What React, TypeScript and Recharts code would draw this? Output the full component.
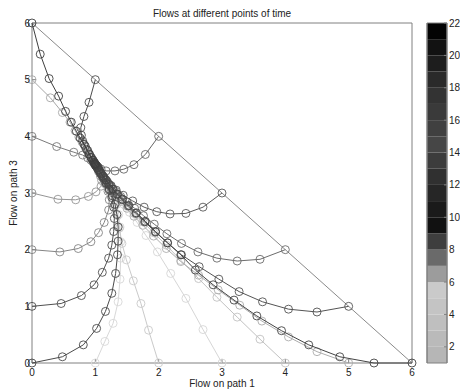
import { ScatterChart, Scatter, XAxis, YAxis, ReferenceArea } from "recharts";

type Pt = [number, number];

// axis ticks
const axisTicks = [0, 1, 2, 3, 4, 5, 6];
const colorbarTicks = [2, 4, 6, 8, 10, 12, 14, 16, 18, 20, 22];

// feasible boundary x1 + x3 = 6
const boundary: Pt[] = [
  [0, 6],
  [6, 0],
];

// trajectories, named by their starting point (path1, path3)
const t06: Pt[] = [
  [0, 6], [0.13, 5.45], [0.27, 5.02], [0.42, 4.71], [0.53, 4.44], [0.62, 4.25], [0.7, 4.09],
  [0.76, 3.97], [0.82, 3.86], [0.86, 3.77], [0.9, 3.69], [0.93, 3.63], [0.96, 3.58], [0.98, 3.54],
  [0.99, 3.52], [1.0, 3.51], [1.0, 3.5],
];
const t15: Pt[] = [
  [1, 5], [0.9, 4.6], [0.82, 4.35], [0.77, 4.15], [0.78, 4.02], [0.8, 3.92], [0.84, 3.83],
  [0.88, 3.75], [0.91, 3.68], [0.94, 3.62], [0.96, 3.58], [0.98, 3.55], [0.99, 3.52], [1.0, 3.51],
];
const t05: Pt[] = [
  [0, 5], [0.29, 4.68], [0.48, 4.42], [0.6, 4.25], [0.68, 4.1], [0.74, 3.99], [0.79, 3.9],
  [0.84, 3.81], [0.88, 3.73], [0.91, 3.67], [0.94, 3.61], [0.96, 3.57], [0.98, 3.54], [0.99, 3.52],
  [1.0, 3.51],
];
const t24: Pt[] = [
  [2, 4], [1.79, 3.68], [1.61, 3.5], [1.45, 3.42], [1.31, 3.39], [1.17, 3.39], [1.09, 3.42],
  [1.05, 3.45], [1.02, 3.48], [1.01, 3.49], [1.0, 3.5],
];
const t04: Pt[] = [
  [0, 4], [0.39, 3.82], [0.66, 3.72], [0.8, 3.67], [0.88, 3.62], [0.93, 3.58], [0.96, 3.55],
  [0.98, 3.52], [0.99, 3.51], [1.0, 3.5],
];
const t33: Pt[] = [
  [3, 3], [2.7, 2.75], [2.43, 2.64], [2.18, 2.63], [1.97, 2.67], [1.77, 2.75], [1.59, 2.86],
  [1.44, 2.96], [1.33, 3.05], [1.25, 3.13], [1.19, 3.2], [1.14, 3.27], [1.1, 3.33], [1.07, 3.38],
  [1.04, 3.43], [1.02, 3.47], [1.01, 3.49],
];
const t03: Pt[] = [
  [0, 3], [0.41, 2.89], [0.69, 2.88], [0.89, 2.94], [1.01, 3.02], [1.09, 3.12], [1.1, 3.22],
  [1.08, 3.3], [1.05, 3.38], [1.03, 3.44], [1.01, 3.48], [1.0, 3.49],
];
const t42: Pt[] = [
  [4, 2], [3.6, 1.83], [3.24, 1.8], [2.92, 1.85], [2.62, 1.96], [2.36, 2.11], [2.13, 2.28],
  [1.93, 2.45], [1.76, 2.6], [1.62, 2.73], [1.5, 2.84], [1.4, 2.94], [1.32, 3.03], [1.25, 3.11],
  [1.19, 3.19], [1.14, 3.26], [1.1, 3.32], [1.07, 3.38], [1.04, 3.43], [1.02, 3.47], [1.01, 3.49],
];
const t51: Pt[] = [
  [5, 1], [4.5, 0.9], [4.05, 0.95], [3.64, 1.08], [3.27, 1.26], [2.95, 1.48], [2.64, 1.7],
  [2.36, 1.91], [2.14, 2.12], [1.95, 2.31], [1.78, 2.49], [1.64, 2.64], [1.52, 2.77], [1.42, 2.88],
  [1.34, 2.98], [1.27, 3.07], [1.21, 3.15], [1.16, 3.23], [1.12, 3.3], [1.08, 3.36], [1.05, 3.41],
  [1.03, 3.45], [1.01, 3.48],
];
const t60: Pt[] = [
  [6, 0], [5.4, 0], [4.86, 0.11], [4.37, 0.32], [3.94, 0.57], [3.55, 0.83], [3.19, 1.11],
  [2.86, 1.38], [2.58, 1.64], [2.35, 1.91], [2.14, 2.12], [1.95, 2.32], [1.79, 2.5], [1.65, 2.65],
  [1.53, 2.78], [1.43, 2.89], [1.35, 2.98], [1.28, 3.07], [1.22, 3.15], [1.17, 3.23], [1.12, 3.3],
  [1.08, 3.36], [1.05, 3.41], [1.03, 3.45], [1.01, 3.48],
];
const t50: Pt[] = [
  [5, 0], [4.5, 0.2], [4.05, 0.46], [3.63, 0.74], [3.28, 1.02], [2.94, 1.29], [2.63, 1.55],
  [2.35, 1.79], [2.12, 2.02], [1.92, 2.24], [1.75, 2.43], [1.61, 2.59], [1.5, 2.73], [1.41, 2.85],
  [1.33, 2.95], [1.26, 3.05], [1.2, 3.14], [1.15, 3.22], [1.11, 3.3], [1.07, 3.36], [1.05, 3.41],
  [1.03, 3.45], [1.01, 3.48],
];
const t40: Pt[] = [
  [4, 0], [3.6, 0.42], [3.24, 0.81], [2.92, 1.16], [2.63, 1.49], [2.35, 1.81], [2.12, 2.08],
  [1.92, 2.3], [1.75, 2.49], [1.61, 2.64], [1.5, 2.77], [1.41, 2.88], [1.33, 2.98], [1.26, 3.07],
  [1.2, 3.16], [1.15, 3.24], [1.11, 3.31], [1.07, 3.37], [1.05, 3.42], [1.03, 3.46], [1.01, 3.49],
];
const t30: Pt[] = [
  [3, 0], [2.7, 0.59], [2.43, 1.14], [2.19, 1.58], [1.98, 1.96], [1.8, 2.25], [1.66, 2.48],
  [1.54, 2.66], [1.45, 2.8], [1.37, 2.92], [1.3, 3.02], [1.24, 3.11], [1.18, 3.2], [1.13, 3.28],
  [1.09, 3.35], [1.06, 3.41], [1.04, 3.45], [1.02, 3.48], [1.01, 3.49],
];
const t20: Pt[] = [
  [2, 0], [1.84, 0.58], [1.72, 1.05], [1.6, 1.45], [1.49, 1.82], [1.42, 2.11], [1.38, 2.38],
  [1.35, 2.6], [1.32, 2.79], [1.28, 2.94], [1.24, 3.06], [1.19, 3.17], [1.14, 3.26], [1.1, 3.33],
  [1.07, 3.39], [1.05, 3.44], [1.03, 3.47], [1.01, 3.49],
];
const t10: Pt[] = [
  [1, 0], [1.15, 0.38], [1.28, 0.7], [1.36, 1.08], [1.39, 1.48], [1.4, 1.85], [1.4, 2.14],
  [1.39, 2.4], [1.37, 2.62], [1.34, 2.8], [1.3, 2.95], [1.25, 3.07], [1.2, 3.17], [1.15, 3.26],
  [1.11, 3.33], [1.08, 3.39], [1.05, 3.44], [1.03, 3.47], [1.01, 3.49],
];
const t00: Pt[] = [
  [0, 0], [0.48, 0.11], [0.81, 0.32], [1.02, 0.61], [1.16, 0.91], [1.26, 1.23], [1.32, 1.58],
  [1.35, 1.91], [1.36, 2.15], [1.36, 2.4], [1.34, 2.62], [1.31, 2.8], [1.27, 2.95], [1.22, 3.07],
  [1.17, 3.18], [1.13, 3.27], [1.09, 3.34], [1.06, 3.4], [1.04, 3.45], [1.02, 3.48], [1.01, 3.49],
];
const t01: Pt[] = [
  [0, 1], [0.46, 1.05], [0.78, 1.19], [0.98, 1.38], [1.11, 1.6], [1.21, 1.85], [1.26, 2.08],
  [1.29, 2.32], [1.3, 2.55], [1.29, 2.75], [1.26, 2.92], [1.22, 3.05], [1.17, 3.17], [1.13, 3.26],
  [1.09, 3.34], [1.06, 3.4], [1.04, 3.45], [1.02, 3.48], [1.01, 3.49],
];
const t02: Pt[] = [
  [0, 2], [0.44, 1.96], [0.73, 2.02], [0.93, 2.14], [1.05, 2.3], [1.14, 2.48], [1.21, 2.7],
  [1.22, 2.88], [1.2, 3.03], [1.16, 3.16], [1.12, 3.26], [1.08, 3.34], [1.05, 3.41], [1.03, 3.46],
  [1.01, 3.49], [1.0, 3.5],
];

// drawn light first, dark on top
const trajectories: Pt[][] = [
  t30, t10, t20, t40, t50, t05, t03, t02, t04, t42, t24, t33, t51, t01, t15, t00, t60, t06,
];
const trajectoryColors = [
  "#d6d6d6", "#d8d8d8", "#cacaca", "#c2c2c2", "#adadad", "#a6a6a6", "#959595", "#858585", "#7a7a7a",
  "#6c6c6c", "#666666", "#5a5a5a", "#545454", "#505050", "#4c4c4c", "#4a4a4a", "#444444", "#3e3e3e",
];

// colorbar bands 1-2 ... 21-22, bottom to top
const colorbarEdges = [1, 2, 3, 4, 5, 6, 7, 8, 9, 10, 11, 12, 13, 14, 15, 16, 17, 18, 19, 20, 21, 22];
const colorbarColors = [
  "#b6b6b6", "#bababa", "#bfbfbf", "#c4c4c4", "#cacaca", "#9c9c9c", "#6a6a6a", "#3e3e3e", "#111111",
  "#1a1a1a", "#262626", "#303030", "#3c3c3c", "#464646", "#404040", "#3a3a3a", "#333333", "#2a2a2a",
  "#1d1d1d", "#121212", "#030303",
];

const AXIS = "#808080";
const TEXT = "#222";

const toRows = (pts: Pt[]) => pts.map(([x, y]) => ({ x, y }));
const edgeRows = colorbarEdges.map((v) => ({ x: 0.5, y: v }));

const ring = (color: string) => (props: any) => (
  <circle cx={props.cx} cy={props.cy} r={4} fill="none" stroke={color} strokeWidth={0.9} />
);
const noMark = () => <g />;

export default function App() {
  return (
    <div
      style={{
        position: "absolute",
        left: 0,
        top: 0,
        width: 460,
        height: 389,
        background: "#fff",
        fontFamily: "'Liberation Sans', Arial, sans-serif",
        fontSize: 10,
      }}
    >
      <div style={{ position: "absolute", left: 0, top: 0 }}>
        <ScatterChart width={460} height={389} margin={{ top: 22, right: 47, bottom: 0, left: 0 }}>
          <XAxis
            dataKey="x"
            type="number"
            domain={[0, 6]}
            ticks={axisTicks}
            height={26}
            stroke={AXIS}
            tickSize={-4}
            tickMargin={10}
            tick={{ fill: TEXT, fontSize: 10 }}
            label={{ value: "Flow on path 1", position: "insideBottom", offset: 2, fill: TEXT, fontSize: 10 }}
          />
          <XAxis
            xAxisId="top"
            dataKey="x"
            orientation="top"
            type="number"
            domain={[0, 6]}
            ticks={axisTicks}
            height={1}
            stroke={AXIS}
            tickSize={-4}
            tick={false}
            label={{ value: "Flows at different points of time", position: "top", offset: 5.5, fill: TEXT, fontSize: 10 }}
          />
          <YAxis
            dataKey="y"
            type="number"
            domain={[0, 6]}
            ticks={axisTicks}
            width={32}
            stroke={AXIS}
            tickSize={-4}
            tickMargin={6}
            tick={{ fill: TEXT, fontSize: 10 }}
            label={{
              value: "Flow on path 3",
              angle: -90,
              position: "insideLeft",
              offset: 13,
              fill: TEXT,
              fontSize: 10,
              style: { textAnchor: "middle" },
            }}
          />
          <YAxis
            yAxisId="right"
            dataKey="y"
            orientation="right"
            type="number"
            domain={[0, 6]}
            ticks={axisTicks}
            width={1}
            stroke={AXIS}
            tickSize={-4}
            tick={false}
          />
          <Scatter
            xAxisId="top"
            yAxisId="right"
            data={toRows(boundary)}
            line={{ stroke: "#8a8a8a", strokeWidth: 1 }}
            shape={noMark}
            isAnimationActive={false}
          />
          {trajectories.map((t, i) => (
            <Scatter
              key={i}
              data={toRows(t)}
              fill={trajectoryColors[i]}
              line={{ stroke: trajectoryColors[i], strokeWidth: 1 }}
              shape={ring(trajectoryColors[i])}
              isAnimationActive={false}
            />
          ))}
        </ScatterChart>
      </div>
      <div style={{ position: "absolute", left: 0, top: 0 }}>
        <ScatterChart width={460} height={389} margin={{ top: 23, right: 12, bottom: 26, left: 426 }}>
          <XAxis xAxisId="cb" dataKey="x" type="number" domain={[0, 1]} hide />
          <YAxis
            yAxisId="cbl"
            dataKey="y"
            orientation="left"
            type="number"
            domain={[1, 22]}
            ticks={colorbarTicks}
            width={1}
            stroke={AXIS}
            tickSize={-3}
            tick={false}
          />
          <YAxis
            yAxisId="cb"
            dataKey="y"
            orientation="right"
            type="number"
            domain={[1, 22]}
            ticks={colorbarTicks}
            width={1}
            stroke={AXIS}
            tickSize={-3}
            tickMargin={5}
            tick={{ fill: TEXT, fontSize: 10 }}
          />
          {colorbarColors.map((c, i) => (
            <ReferenceArea
              key={i}
              xAxisId="cb"
              yAxisId="cb"
              y1={colorbarEdges[i]}
              y2={colorbarEdges[i + 1]}
              fill={c}
              fillOpacity={1}
              stroke="none"
              ifOverflow="visible"
            />
          ))}
          <ReferenceArea
            xAxisId="cb"
            yAxisId="cb"
            y1={colorbarEdges[0]}
            y2={colorbarEdges[colorbarEdges.length - 1]}
            fill="none"
            stroke={AXIS}
            ifOverflow="visible"
          />
          <Scatter xAxisId="cb" yAxisId="cb" data={edgeRows} shape={noMark} isAnimationActive={false} />
          <Scatter xAxisId="cb" yAxisId="cbl" data={edgeRows} shape={noMark} isAnimationActive={false} />
        </ScatterChart>
      </div>
    </div>
  );
}
